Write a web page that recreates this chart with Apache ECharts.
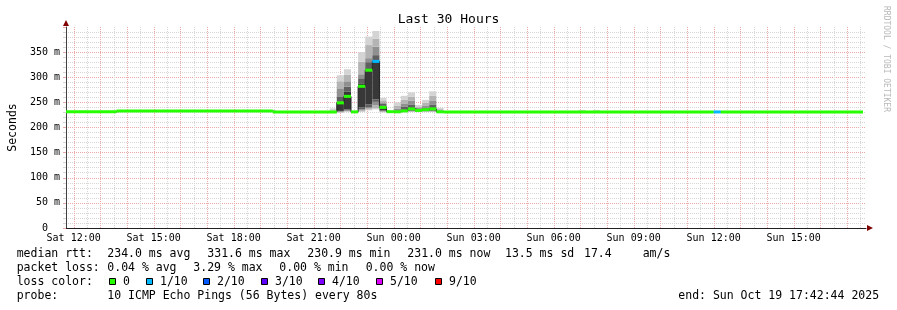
<!DOCTYPE html>
<html><head><meta charset="utf-8">
<script src="https://cdn.jsdelivr.net/npm/echarts@6/dist/echarts.min.js"></script>
<style>html,body{margin:0;padding:0;background:#fff}#c{width:897px;height:310px}</style>
</head><body><div id="c"></div>
<script>
// ---- data (x in minutes since Sat 00:00, one RRD row = 16 min) ----
const STEP = 16;
const X_MIN = 702 + 44 / 60;          // Sat 11:42:44
const X_MAX = X_MIN + 30 * 60;        // Sun 17:42:44

// flat stretches of median rtt (ms): [fromBin, toBin)
const flatFromBin = [43, 51, 73];
const flatToBin   = [51, 73, 156];
const flatRtt     = [231.2, 232.8, 231.0];

// rows with visible smoke: bin, median rtt, 10 sorted ping rtts (ms)
const smokeBin    = [81, 82, 83, 84, 85, 86, 87, 88, 89, 90, 91, 92, 93, 94, 95, 96, 116, 118];
const smokeMedian = [231.0, 249, 262, 231.1, 282, 314, 331.6, 240, 231.5, 231.2, 233, 237, 234, 235.5, 237, 231.2, 231.0, 231.0];
const smokePings = [
  [230.5, 230.8, 231, 231, 231, 231.2, 231.5, 232, 234, 238],
  [229, 230, 231, 232, 233, 251, 262, 278, 292, 304],
  [231, 232, 233, 234, 236, 271, 281, 292, 305, 316],
  [230.5, 230.8, 231, 231, 231, 231.2, 231.3, 231.5, 231.8, 232],
  [231, 232, 234, 236, 240, 288, 298, 306, 331, 350],
  [234, 236, 238, 240, 246, 318, 330, 338, 364, 381],
  [236, 238, 244, 251, 256, 334, 344, 361, 377, 392],
  [230, 231, 232, 233, 234, 243, 247, 250, 254, 259],
  [230.5, 230.8, 231, 231, 231, 231.2, 231.5, 231.8, 232, 233],
  [230.5, 231, 231, 231, 231, 231.5, 233, 237, 243, 250],
  [230.5, 231, 231.5, 232, 233, 236, 242, 248, 255, 263],
  [231, 231.5, 232, 233, 234, 239, 246, 253, 261, 270],
  [231, 231.5, 232, 232.5, 233, 235, 237, 239, 242, 245],
  [231, 231.5, 232, 233, 234, 237, 240, 244, 249, 255],
  [231, 231.5, 232, 233, 234, 239, 246, 254, 263, 272],
  [230.5, 231, 231, 231, 231, 231.5, 232.5, 234, 236.5, 239],
  [230.5, 231, 231, 231, 231, 231, 231.5, 232, 233, 235],
  [230.5, 231, 231, 231, 231, 231, 231.5, 232, 233, 235]
];

// rows with packet loss (lost pings of 10)
const lossBin   = [87, 135];
const lossCount = [1, 1];

// axis labels / grid
const xLabelMinutes = [720, 900, 1080, 1260, 1440, 1620, 1800, 1980, 2160, 2340];
const xLabelText = ['Sat 12:00', 'Sat 15:00', 'Sat 18:00', 'Sat 21:00', 'Sun 00:00', 'Sun 03:00', 'Sun 06:00', 'Sun 09:00', 'Sun 12:00', 'Sun 15:00'];
const xGridMinutes = [];
for (let m = 720; m <= 2490; m += 30) xGridMinutes.push(m);

// legend
const lossLegendText  = ['0', '1/10', '2/10', '3/10', '4/10', '5/10', '9/10'];
const lossLegendColor = ['#26ff00', '#00b8ff', '#0059ff', '#5e00ff', '#7e00ff', '#dd00ff', '#ff0000'];
const statLine1 = ['median rtt:', '234.0 ms avg', '331.6 ms max', '230.9 ms min', '231.0 ms now', '13.5 ms sd', '17.4', 'am/s'];
const statLine2 = ['packet loss:', '0.04 % avg', '3.29 % max', '0.00 % min', '0.00 % now'];
const probeText = ['probe:', '10 ICMP Echo Pings (56 Bytes) every 80s'];
const endText = 'end: Sun Oct 19 17:42:44 2025';

// ---- build ----
const FONT = '"DejaVu Sans Mono", monospace';
const MGRID = '#eda8a8', GRID = '#d6d6d6';
const grayShades = ['#d4d4d4', '#b4b4b4', '#909090', '#606060', '#383838'];
function lossColorIdx(n) { return n >= 9 ? 6 : (n >= 5 ? 5 : n); }

const medianByBin = {}, lossByBin = {};
for (let s = 0; s < flatFromBin.length; s++)
  for (let b = flatFromBin[s]; b < flatToBin[s]; b++) { medianByBin[b] = flatRtt[s]; lossByBin[b] = 0; }
smokeBin.forEach((b, i) => { medianByBin[b] = smokeMedian[i]; });
lossBin.forEach((b, i) => { lossByBin[b] = lossCount[i]; });
const bins = Object.keys(medianByBin).map(Number).sort((a, b) => a - b);

const bandData = [];
bins.forEach(b => {
  const t0 = Math.max(b * STEP, X_MIN), t1 = (b + 1) * STEP, v = medianByBin[b], c = lossColorIdx(lossByBin[b]);
  const last = bandData[bandData.length - 1];
  if (last && last[2] === v && last[3] === c && last[1] === t0) last[1] = t1;
  else bandData.push([t0, t1, v, c]);
});
const stepData = bins.map(b => [Math.max(b * STEP, X_MIN), medianByBin[b]]);
stepData.push([(bins[bins.length - 1] + 1) * STEP, medianByBin[bins[bins.length - 1]]]);
const smokeData = smokeBin.map((b, i) => [b * STEP, (b + 1) * STEP].concat(smokePings[i]));
const vgridData = xGridMinutes.map((m, i) => [m, i % 2]);

const textStyle = (x, y, text) => ({
  type: 'text', x: x, y: y,
  style: { text: text, font: '11.5px ' + FONT, fill: '#000', verticalAlign: 'middle', align: 'left' }
});

const graphics = [];
const l1x = [16.7, 107.3, 207.3, 307.3, 407.3, 505, 584, 642.7];
statLine1.forEach((t, i) => graphics.push(textStyle(l1x[i], 254.5, t)));
const l2x = [16.7, 107.3, 193.3, 279.3, 365.7];
statLine2.forEach((t, i) => graphics.push(textStyle(l2x[i], 268, t)));
graphics.push(textStyle(16.7, 282, 'loss color:'));
const boxX = [109, 146, 203, 261, 318, 376, 435];
lossLegendText.forEach((t, i) => {
  graphics.push({ type: 'rect', shape: { x: boxX[i] + 0.5, y: 278.5, width: 6, height: 6 },
    style: { fill: lossLegendColor[i], stroke: '#000', lineWidth: 1 } });
  graphics.push(textStyle(boxX[i] + 14, 282, t));
});
graphics.push(textStyle(16.7, 296.5, probeText[0]));
graphics.push(textStyle(107.3, 296.5, probeText[1]));
graphics.push(textStyle(678.3, 296.5, endText));
graphics.push({ type: 'text', x: 886, y: 59, rotation: -Math.PI / 2,
  style: { text: 'RRDTOOL / TOBI OETIKER', font: '8px ' + FONT, fill: '#b8b8b8', align: 'center', verticalAlign: 'middle' } });

const chart = echarts.init(document.getElementById('c'), null, { renderer: 'canvas' });
chart.setOption({
  animation: false,
  backgroundColor: '#ffffff',
  title: { text: 'Last 30 Hours', left: 'center', top: 8,
    textStyle: { fontFamily: FONT, fontSize: 13, fontWeight: 'normal', color: '#000' } },
  grid: { left: 66, right: 31, top: 27, bottom: 82, containLabel: false, outerBoundsMode: 'none' },
  xAxis: [{
    type: 'value', min: X_MIN, max: X_MAX,
    axisLine: { show: true, onZero: false, lineStyle: { color: '#202020' } },
    axisTick: { show: false },
    axisLabel: { customValues: xLabelMinutes, fontFamily: FONT, fontSize: 10, color: '#000', margin: 5,
      formatter: v => { const i = xLabelMinutes.indexOf(Math.round(v)); return i >= 0 ? xLabelText[i] : ''; } },
    splitLine: { show: false }
  }, {
    type: 'value', min: X_MIN, max: X_MAX, position: 'bottom',
    axisLine: { show: true, onZero: false, symbol: ['none', 'triangle'], symbolSize: [6, 6], symbolOffset: [0, 4],
      lineStyle: { color: '#800000', width: 0 } },
    axisTick: { show: false }, axisLabel: { show: false }, splitLine: { show: false }
  }],
  yAxis: [{
    type: 'value', min: 0, max: 400, interval: 50,
    name: 'Seconds', nameLocation: 'middle', nameGap: 47, nameRotate: 90,
    nameTextStyle: { fontFamily: FONT, fontSize: 11.5, color: '#000' },
    axisLine: { show: true, lineStyle: { color: '#404040' } },
    axisTick: { show: true, length: 3, lineStyle: { color: MGRID } },
    minorTick: { show: true, splitNumber: 5, length: 3, lineStyle: { color: GRID } },
    axisLabel: { fontFamily: FONT, fontSize: 10, color: '#000', margin: 6,
      formatter: v => v === 0 ? '0  ' : (v >= 400 ? '' : v + ' m') },
    splitLine: { show: true, showMaxLine: false, lineStyle: { color: MGRID, type: [1, 1] } },
    minorSplitLine: { show: true, lineStyle: { color: GRID, type: [1, 1] } }
  }, {
    type: 'value', min: 0, max: 400, position: 'left',
    axisLine: { show: true, symbol: ['none', 'triangle'], symbolSize: [6, 6], symbolOffset: [0, 4],
      lineStyle: { color: '#800000', width: 0 } },
    axisTick: { show: false }, axisLabel: { show: false }, splitLine: { show: false }
  }],
  series: [{
    type: 'custom', name: 'vgrid', xAxisIndex: 0, yAxisIndex: 0, z: 1, silent: true,
    encode: { x: 0 },
    data: vgridData,
    renderItem: (params, api) => {
      const m = api.value(0);
      const a = api.coord([m, 400]), b = api.coord([m, 0]);
      const x = Math.round(a[0]) + 0.5;
      return { type: 'line', shape: { x1: x, y1: a[1], x2: x, y2: b[1] },
        style: { stroke: api.value(1) === 0 ? MGRID : GRID, lineWidth: 1, lineDash: [1, 1] } };
    }
  }, {
    type: 'custom', name: 'smoke', xAxisIndex: 0, yAxisIndex: 0, z: 2,
    encode: { x: [0, 1], y: [2, 3, 4, 5, 6, 7, 8, 9, 10, 11] },
    data: smokeData,
    renderItem: (params, api) => {
      const t0 = api.value(0), t1 = api.value(1), children = [];
      for (let k = 0; k < 9; k++) {
        const lo = api.value(2 + k), hi = api.value(3 + k);
        const a = api.coord([t0, hi]), c = api.coord([t1, lo]);
        children.push({ type: 'rect', shape: { x: a[0], y: a[1], width: c[0] - a[0], height: c[1] - a[1] },
          style: { fill: grayShades[Math.min(k, 8 - k)] } });
      }
      return { type: 'group', children: children };
    }
  }, {
    type: 'line', name: 'median', xAxisIndex: 0, yAxisIndex: 0, z: 3,
    step: 'end', showSymbol: false, symbol: 'none',
    lineStyle: { color: '#202020', width: 1 },
    data: stepData
  }, {
    type: 'custom', name: 'loss', xAxisIndex: 0, yAxisIndex: 0, z: 4,
    encode: { x: [0, 1], y: 2 },
    data: bandData,
    renderItem: (params, api) => {
      const v = api.value(2);
      const a = api.coord([api.value(0), v]), c = api.coord([api.value(1), v]);
      return { type: 'rect', shape: { x: a[0], y: a[1] - 1.5, width: c[0] - a[0], height: 3 },
        style: { fill: lossLegendColor[api.value(3)] } };
    }
  }],
  graphic: graphics
});
</script></body></html>
